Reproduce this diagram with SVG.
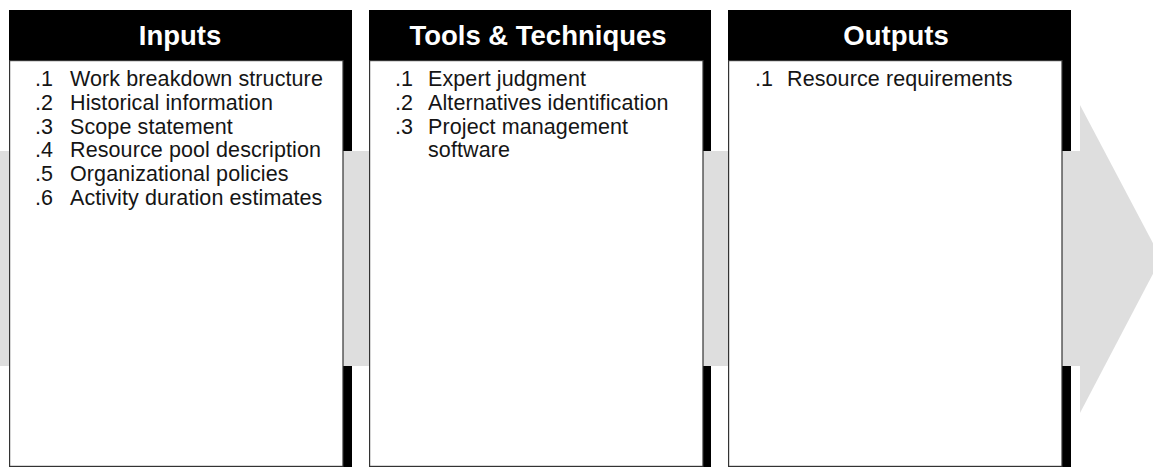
<svg xmlns="http://www.w3.org/2000/svg" width="1153" height="468" viewBox="0 0 1153 468">
  <style>
    .blk { fill: #000; }
    .panel { fill: #fff; stroke: #333; stroke-width: 1.2; }
    .hdr { font-family: "Liberation Sans", Arial, sans-serif; font-weight: bold; font-size: 27.5px; fill: #fff; text-anchor: middle; }
    .item { font-family: "Liberation Sans", Arial, sans-serif; font-size: 21.5px; letter-spacing: 0.1px; fill: #151515; }
    .band { fill: #dedede; }
  </style>
  <g id="connectors">
    <rect class="band" x="0" y="151" width="1081" height="215"/>
    <polygon class="band" points="1080,105 1161,258.5 1080,413"/>
  </g>
  <g id="inputs">
    <rect class="blk" x="9" y="10" width="343" height="51"/>
    <rect class="blk" x="343" y="60" width="9" height="91"/>
    <rect class="blk" x="343" y="366" width="9" height="101"/>
    <rect class="panel" x="9.6" y="60.6" width="333.4" height="405.8"/>
    <text class="hdr" x="180" y="44.5">Inputs</text>
    <g class="item">
      <text x="35" y="86">.1</text><text x="70" y="86">Work breakdown structure</text>
      <text x="35" y="110">.2</text><text x="70" y="110">Historical information</text>
      <text x="35" y="134">.3</text><text x="70" y="134">Scope statement</text>
      <text x="35" y="157">.4</text><text x="70" y="157">Resource pool description</text>
      <text x="35" y="181">.5</text><text x="70" y="181">Organizational policies</text>
      <text x="35" y="205">.6</text><text x="70" y="205">Activity duration estimates</text>
    </g>
  </g>
  <g id="tools">
    <rect class="blk" x="369" y="10" width="342" height="51"/>
    <rect class="blk" x="703" y="60" width="8" height="91"/>
    <rect class="blk" x="703" y="366" width="8" height="101"/>
    <rect class="panel" x="369.6" y="60.6" width="333.4" height="405.8"/>
    <text class="hdr" x="538" y="44.5">Tools &amp; Techniques</text>
    <g class="item">
      <text x="395" y="86">.1</text><text x="428" y="86">Expert judgment</text>
      <text x="395" y="110">.2</text><text x="428" y="110">Alternatives identification</text>
      <text x="395" y="134">.3</text><text x="428" y="134">Project management</text>
      <text x="428" y="157">software</text>
    </g>
  </g>
  <g id="outputs">
    <rect class="blk" x="728" y="10" width="343" height="51"/>
    <rect class="blk" x="1062" y="60" width="9" height="91"/>
    <rect class="blk" x="1062" y="366" width="9" height="101"/>
    <rect class="panel" x="728.6" y="60.6" width="333.4" height="405.8"/>
    <text class="hdr" x="896" y="44.5">Outputs</text>
    <g class="item">
      <text x="755" y="86">.1</text><text x="787" y="86">Resource requirements</text>
    </g>
  </g>
</svg>
